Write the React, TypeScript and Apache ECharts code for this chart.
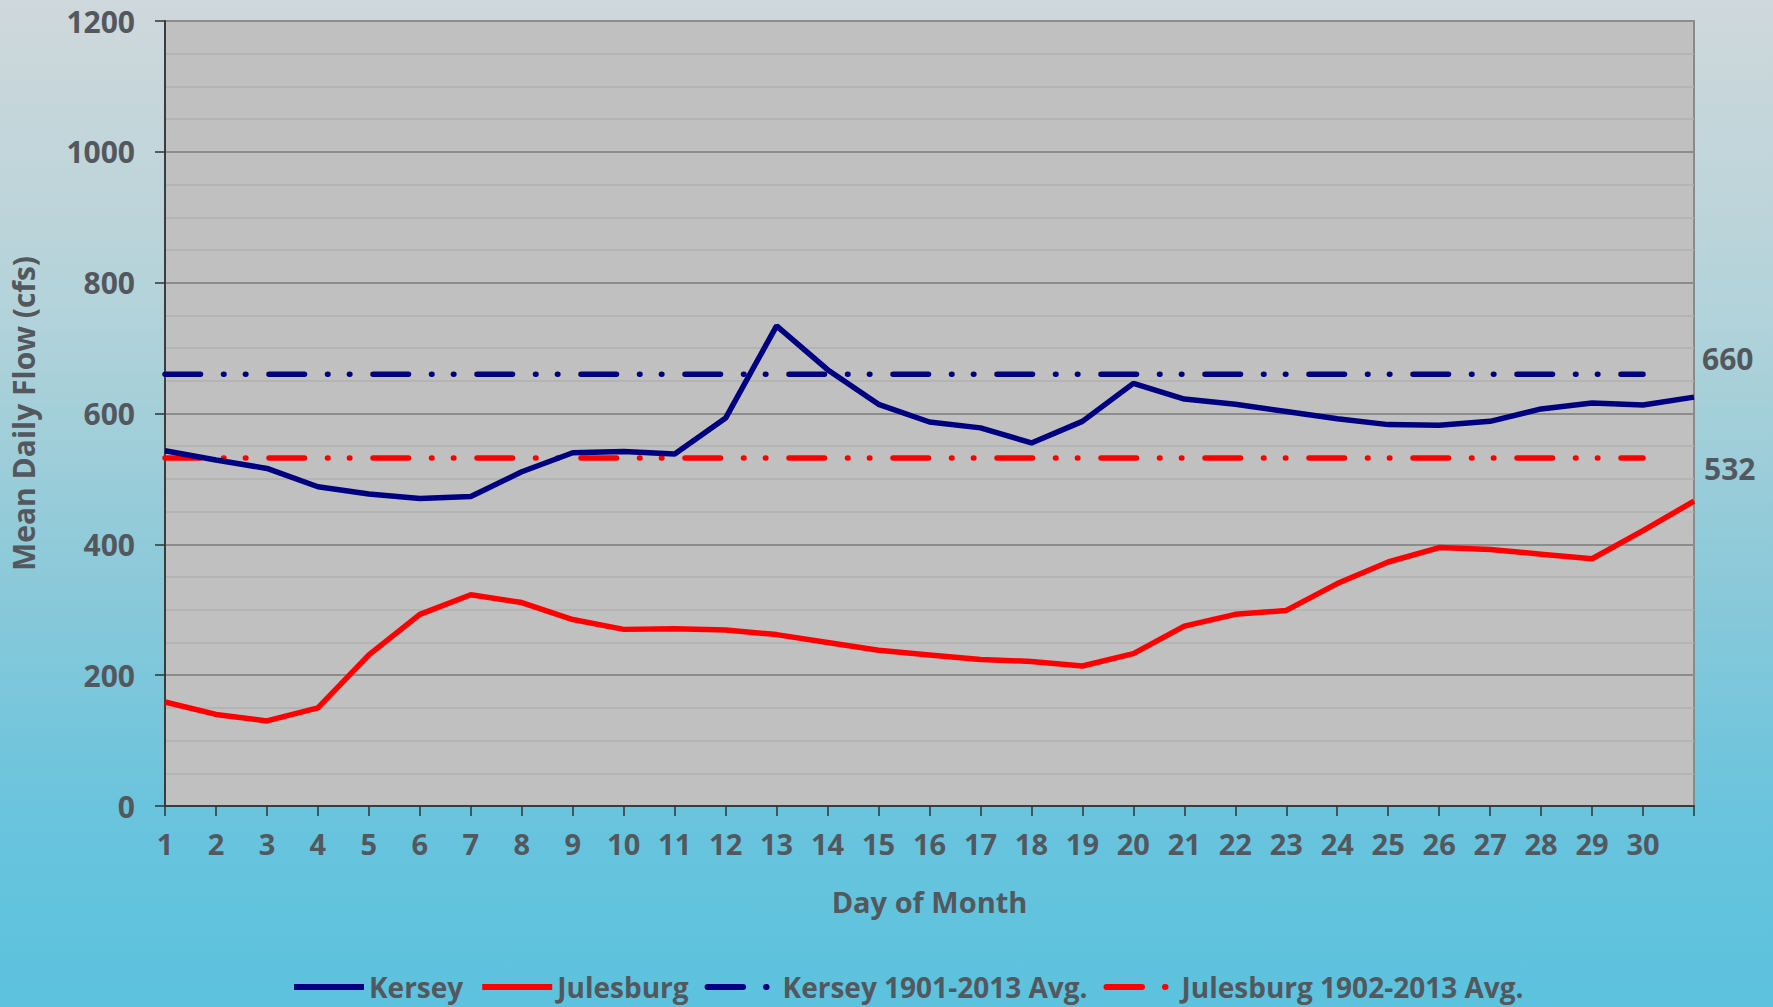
import React, { useEffect, useRef } from "react";
import * as echarts from "echarts";

const days = ["1","2","3","4","5","6","7","8","9","10","11","12","13","14","15","16","17","18","19","20","21","22","23","24","25","26","27","28","29","30","31"];
const yTicks = [0, 200, 400, 600, 800, 1000, 1200];

const kersey = [543, 529, 516, 488, 477, 470, 473, 511, 540, 542, 538, 593, 734, 667, 614, 587, 578, 555, 588, 646, 622, 614, 603, 592, 583, 582, 588, 607, 616, 613, 625];
const julesburg = [159, 140, 130, 150, 231, 293, 323, 311, 285, 270, 271, 269, 262, 250, 238, 231, 224, 221, 214, 233, 275, 293, 299, 340, 373, 395, 392, 385, 378, 421, 466];
const kerseyAvg = [660, 660, 660, 660, 660, 660, 660, 660, 660, 660, 660, 660, 660, 660, 660, 660, 660, 660, 660, 660, 660, 660, 660, 660, 660, 660, 660, 660, 660, 660];
const julesburgAvg = [532, 532, 532, 532, 532, 532, 532, 532, 532, 532, 532, 532, 532, 532, 532, 532, 532, 532, 532, 532, 532, 532, 532, 532, 532, 532, 532, 532, 532, 532];

const seriesNames = ["Kersey", "Julesburg", "Kersey 1901-2013 Avg.", "Julesburg 1902-2013 Avg."];

const TEXT = "#53585e";
const FONT = "'Open Sans', 'DejaVu Sans', sans-serif";
const DASH = [35.5, 23, 0.5, 21.4, 0.5, 23.1];

export default function App() {
  const ref = useRef<HTMLDivElement>(null);
  useEffect(() => {
    if (!ref.current) return;
    const chart = echarts.init(ref.current, null, { renderer: "svg" });
    chart.setOption({
      animation: false,
      backgroundColor: "transparent",
      textStyle: { fontFamily: FONT },
      grid: {
        left: 165, right: 79, top: 21, bottom: 201,
        show: true, backgroundColor: "#c0c0c0", borderColor: "#8a8a8a", borderWidth: 2,
        containLabel: false, outerBoundsMode: "none",
      },
      legend: {
        left: 286, top: 968,
        itemWidth: 70, itemHeight: 14, itemGap: 16,
        itemStyle: { opacity: 0 },
        lineStyle: { width: 6 },
        textStyle: { color: TEXT, fontSize: 28, fontWeight: "bold", fontFamily: FONT },
        data: seriesNames,
      },
      xAxis: {
        type: "category",
        data: days,
        boundaryGap: false,
        name: "Day of Month",
        nameLocation: "middle",
        nameGap: 81,
        nameTextStyle: { color: TEXT, fontSize: 29, fontWeight: "bold", fontFamily: FONT },
        axisLine: { show: true, lineStyle: { color: "#3c3c3c", width: 2 } },
        axisTick: { show: true, inside: false, length: 10, interval: 0, lineStyle: { color: "#333", width: 1.5 } },
        axisLabel: {
          interval: 0, margin: 23, color: TEXT, fontSize: 29, fontWeight: "bold", fontFamily: FONT,
          formatter: (v: string, i: number) => (i === days.length - 1 ? "" : v),
        },
        splitLine: { show: false },
      },
      yAxis: {
        type: "value",
        min: yTicks[0], max: yTicks[yTicks.length - 1], interval: 200,
        name: "Mean Daily Flow (cfs)",
        nameLocation: "middle",
        nameGap: 127,
        nameTextStyle: { color: TEXT, fontSize: 30, fontWeight: "bold", fontFamily: FONT },
        axisLine: { show: true, lineStyle: { color: "#3c3c3c", width: 2 } },
        axisTick: { show: true, inside: false, length: 10, lineStyle: { color: "#333", width: 1.5 } },
        axisLabel: {
          margin: 30, color: TEXT, fontSize: 30, fontWeight: "bold", fontFamily: FONT,
          formatter: (v: number) => String(v),
        },
        splitLine: { show: true, lineStyle: { color: "#8c8c8c", width: 2 } },
        minorTick: { show: false, splitNumber: 4 },
        minorSplitLine: { show: true, lineStyle: { color: "#b0b0b0", width: 1.5 } },
      },
      series: [
        {
          name: seriesNames[0], type: "line", data: kersey, symbol: "none",
          lineStyle: { color: "#000080", width: 5.5 }, itemStyle: { color: "#000080" }, z: 4,
        },
        {
          name: seriesNames[1], type: "line", data: julesburg, symbol: "none",
          lineStyle: { color: "#ff0000", width: 5.5 }, itemStyle: { color: "#ff0000" }, z: 4,
        },
        {
          name: seriesNames[2], type: "line", data: kerseyAvg, symbol: "none",
          lineStyle: { color: "#000080", width: 5.5, type: DASH, cap: "round" }, itemStyle: { color: "#000080" }, z: 3,
          endLabel: {
            show: true, formatter: (p: any) => String(p.value), offset: [51, -16],
            color: TEXT, fontSize: 30, fontWeight: "bold", fontFamily: FONT,
          },
        },
        {
          name: seriesNames[3], type: "line", data: julesburgAvg, symbol: "none",
          lineStyle: { color: "#ff0000", width: 5.5, type: DASH, cap: "round" }, itemStyle: { color: "#ff0000" }, z: 3,
          endLabel: {
            show: true, formatter: (p: any) => String(p.value), offset: [53, 11],
            color: TEXT, fontSize: 30, fontWeight: "bold", fontFamily: FONT,
          },
        },
      ],
    });
    return () => chart.dispose();
  }, []);
  return (
    <div
      style={{
        position: "fixed", left: 0, top: 0, width: 1773, height: 1007,
        background: "linear-gradient(to bottom, #cfd8db 0%, #b4d3da 30%, #8fcad9 55%, #6ac4dd 80%, #5cc2de 100%)",
      }}
    >
      <div ref={ref} style={{ width: 1773, height: 1007 }} />
    </div>
  );
}
